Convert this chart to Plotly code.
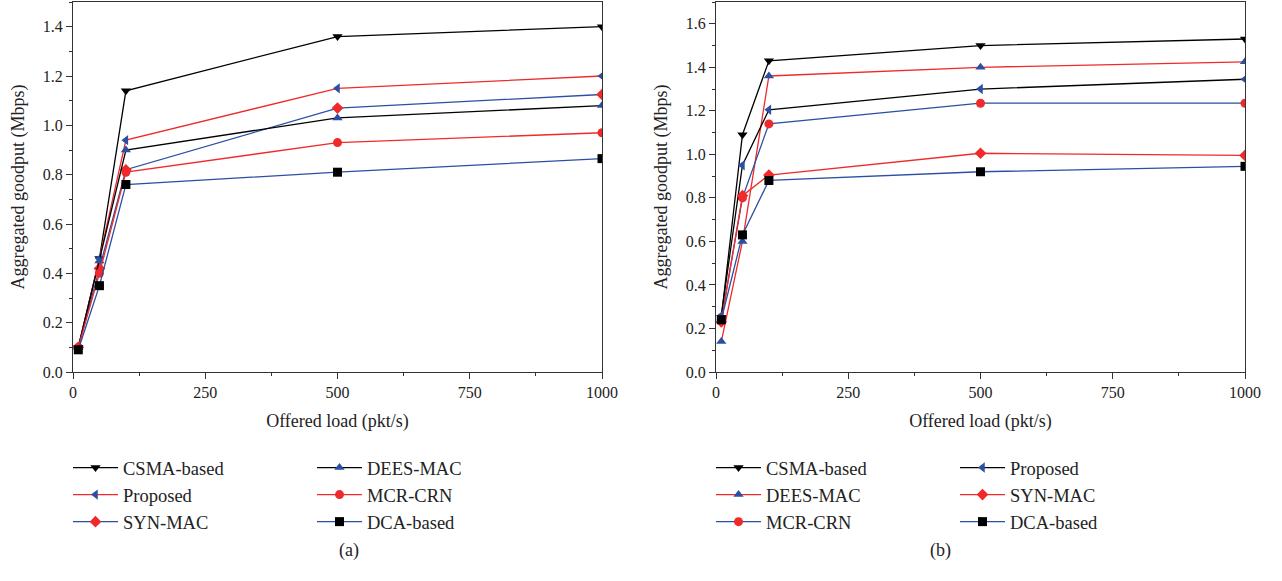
import plotly.graph_objects as go

x_load = [10, 50, 100, 500, 1000]

# Panel (a)
a_csma = [0.10, 0.46, 1.14, 1.36, 1.40]
a_proposed = [0.10, 0.46, 0.94, 1.15, 1.20]
a_syn = [0.10, 0.42, 0.82, 1.07, 1.125]
a_dees = [0.10, 0.45, 0.90, 1.03, 1.08]
a_mcr = [0.10, 0.40, 0.81, 0.93, 0.97]
a_dca = [0.09, 0.35, 0.76, 0.81, 0.865]

# Panel (b)
b_csma = [0.25, 1.09, 1.43, 1.50, 1.53]
b_dees = [0.14, 0.60, 1.36, 1.40, 1.425]
b_mcr = [0.24, 0.80, 1.14, 1.235, 1.235]
b_proposed = [0.26, 0.95, 1.205, 1.30, 1.345]
b_syn = [0.23, 0.81, 0.905, 1.005, 0.995]
b_dca = [0.24, 0.63, 0.88, 0.92, 0.945]

BLACK = "#000000"
RED = "#f02a2a"
BLUE = "#2b4fa3"
FONT = "Liberation Serif"

W, H = 1282, 581


def px(x):
    return x / W


def py(y):
    return 1 - y / H


fig = go.Figure()


def add(name, y, line_color, marker_color, symbol, xa, ya, legend):
    fig.add_trace(go.Scatter(
        x=x_load, y=y, name=name, mode="lines+markers",
        line=dict(color=line_color, width=1.3),
        marker=dict(color=marker_color, symbol=symbol, size=9),
        xaxis=xa, yaxis=ya, legend=legend))


# Panel (a)
add("CSMA-based", a_csma, BLACK, BLACK, "triangle-down", "x", "y", "legend")
add("Proposed", a_proposed, RED, BLUE, "triangle-left", "x", "y", "legend")
add("SYN-MAC", a_syn, BLUE, RED, "diamond", "x", "y", "legend")
add("DEES-MAC", a_dees, BLACK, BLUE, "triangle-up", "x", "y", "legend2")
add("MCR-CRN", a_mcr, RED, RED, "circle", "x", "y", "legend2")
add("DCA-based", a_dca, BLUE, BLACK, "square", "x", "y", "legend2")

# Panel (b)
add("CSMA-based", b_csma, BLACK, BLACK, "triangle-down", "x2", "y2", "legend3")
add("DEES-MAC", b_dees, RED, BLUE, "triangle-up", "x2", "y2", "legend3")
add("MCR-CRN", b_mcr, BLUE, RED, "circle", "x2", "y2", "legend3")
add("Proposed", b_proposed, BLACK, BLUE, "triangle-left", "x2", "y2", "legend4")
add("SYN-MAC", b_syn, RED, RED, "diamond", "x2", "y2", "legend4")
add("DCA-based", b_dca, BLUE, BLACK, "square", "x2", "y2", "legend4")

common_x = dict(
    range=[0, 1000], tick0=0, dtick=250, ticks="outside", ticklen=6,
    tickcolor="#333", showline=True, linecolor="#333", linewidth=1, mirror=True,
    showgrid=False, zeroline=False, automargin=False,
    tickfont=dict(family=FONT, size=16, color="#222"),
    title=dict(text="Offered load (pkt/s)", font=dict(family=FONT, size=18, color="#222"), standoff=14),
    minor=dict(ticks="outside", ticklen=3, tickcolor="#333", dtick=125, tick0=0),
)
common_y = dict(
    ticks="outside", ticklen=6, tickcolor="#333", showline=True, linecolor="#333",
    linewidth=1, mirror=True, showgrid=False, zeroline=False, dtick=0.2, tick0=0,
    tickformat=".1f", automargin=False,
    tickfont=dict(family=FONT, size=16, color="#222"),
    title=dict(text="Aggregated goodput (Mbps)", font=dict(family=FONT, size=18, color="#222"), standoff=13),
    minor=dict(ticks="outside", ticklen=3, tickcolor="#333", dtick=0.1, tick0=0),
    domain=[py(372), py(2)],
)

fig.update_layout(
    width=W, height=H, paper_bgcolor="white", plot_bgcolor="white",
    margin=dict(l=0, r=0, t=0, b=0, autoexpand=False),
    showlegend=True,
    xaxis=dict(common_x, domain=[px(73), px(602)], anchor="y"),
    yaxis=dict(common_y, range=[0, 1.5], anchor="x"),
    xaxis2=dict(common_x, domain=[px(716), px(1245)], anchor="y2"),
    yaxis2=dict(common_y, range=[0, 1.7], anchor="x2"),
)

leg_font = dict(family=FONT, size=18.5, color="#222")
for key, lx in [("legend", 68), ("legend2", 312), ("legend3", 711), ("legend4", 955)]:
    fig.update_layout({key: dict(x=px(lx), y=py(449), xanchor="left", yanchor="top",
                                 orientation="v", font=leg_font, bgcolor="rgba(0,0,0,0)",
                                 itemwidth=45, tracegroupgap=0)})

for txt, cx in [("(a)", 337), ("(b)", 953)]:
    fig.add_annotation(text=txt, x=px(cx), y=py(563), xref="paper", yref="paper",
                       showarrow=False, font=dict(family=FONT, size=18, color="#222"))

fig.write_html("out.html", config={"displayModeBar": False},
               post_script="document.body.style.margin='0';")
